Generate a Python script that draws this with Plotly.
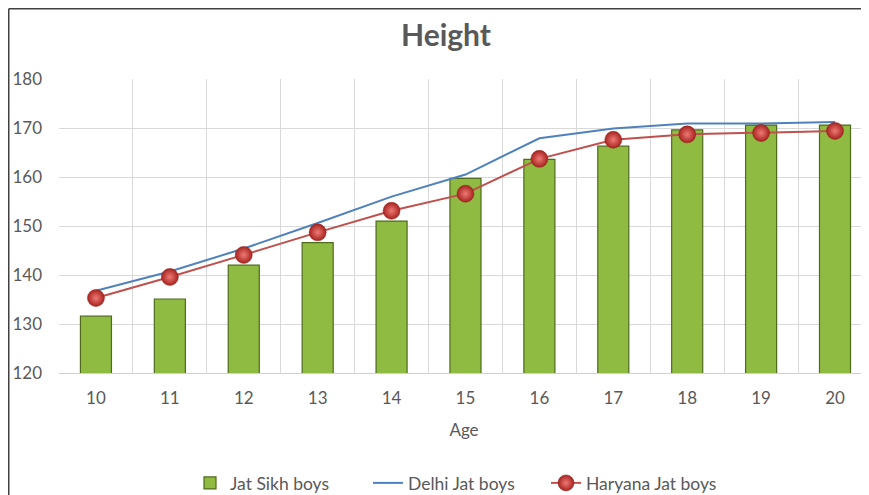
import plotly.graph_objects as go

ages = ["10", "11", "12", "13", "14", "15", "16", "17", "18", "19", "20"]
jat_sikh = [131.6, 135.1, 142.0, 146.6, 151.0, 159.7, 163.6, 166.3, 169.6, 170.6, 170.6]
delhi_jat = [136.8, 140.7, 145.4, 150.6, 156.0, 160.5, 167.9, 169.9, 170.9, 170.9, 171.2]
haryana_jat = [135.3, 139.6, 144.1, 148.7, 153.1, 156.6, 163.7, 167.6, 168.7, 169.0, 169.4]

FONT = "Lato, 'Open Sans', sans-serif"
GREY = "#595959"

W, H = 861, 487
ML, MR, MT, MB = 51, 0, 71, 122
PW, PH = W - ML - MR, H - MT - MB

fig = go.Figure()
fig.add_trace(go.Bar(
    x=ages, y=jat_sikh, name="Jat Sikh boys",
    width=0.42,
    marker=dict(color="#8fbb42", line=dict(color="#4f6b1c", width=1.2)),
))
fig.add_trace(go.Scatter(
    x=ages, y=delhi_jat, name="Delhi Jat boys", mode="lines",
    line=dict(color="#4f81bd", width=2),
))
fig.add_trace(go.Scatter(
    x=ages, y=haryana_jat, name="Haryana Jat boys", mode="lines+markers",
    line=dict(color="#c0504d", width=2),
    marker=dict(size=17, color="#a8231f",
                gradient=dict(type="radial", color="#ee7a75"),
                line=dict(color="#8c1f1b", width=0.5)),
))

fig.update_layout(
    width=W, height=H,
    paper_bgcolor="white", plot_bgcolor="white",
    margin=dict(l=ML, r=MR, t=MT, b=MB),
    font=dict(family=FONT, color=GREY, size=17),
    title=dict(text="<b>Height</b>", x=438/W, xref="container", xanchor="center",
               y=1 - 27/H, yref="container", yanchor="middle",
               font=dict(size=30, color=GREY, family=FONT)),
    showlegend=True,
    legend=dict(orientation="h", x=182/W, xanchor="left", xref="container",
                y=12/H, yref="container", yanchor="middle",
                font=dict(size=17.5, color=GREY, family=FONT),
                itemwidth=30, entrywidth=133, entrywidthmode="pixels",
                tracegroupgap=0),
    xaxis=dict(
        type="category", range=[-0.5, 10.46],
        tickson="boundaries", showgrid=True, gridcolor="#d9d9d9", gridwidth=1,
        showline=True, linecolor="#d0d0d0", linewidth=1,
        ticks="", ticklabelstandoff=10,
        tickfont=dict(size=17, color=GREY),
        title=dict(text="Age", standoff=16, font=dict(size=17, color=GREY)),
        zeroline=False,
    ),
    yaxis=dict(
        range=[120, 180], dtick=10, tick0=120,
        showgrid=True, gridcolor="#d9d9d9", gridwidth=1,
        showline=False, zeroline=False, ticks="",
        ticklabelstandoff=16,
        tickfont=dict(size=17, color=GREY),
    ),
)

# outer chart-area border (left and top edges visible in the crop)
xl = (0.75 - ML) / PW
yt = (H - MB - 0.75) / PH
fig.add_shape(type="line", xref="paper", yref="paper", x0=xl, x1=xl,
              y0=-MB / PH, y1=yt, line=dict(color="#404040", width=1.5))
fig.add_shape(type="line", xref="paper", yref="paper", x0=xl, x1=1.0,
              y0=yt, y1=yt, line=dict(color="#404040", width=1.5))

fig.write_html("out.html")
